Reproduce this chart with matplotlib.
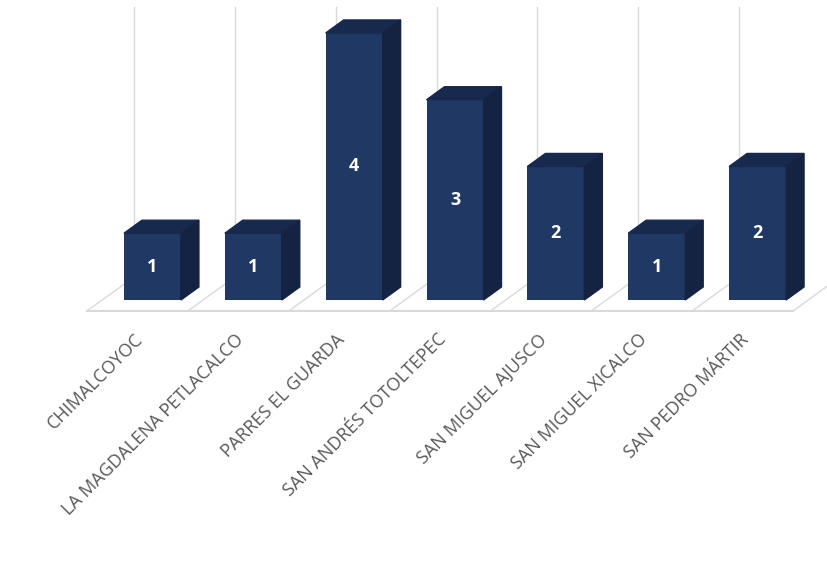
import matplotlib.pyplot as plt
import numpy as np
from matplotlib.patches import Polygon

categories = ['CHIMALCOYOC', 'LA MAGDALENA PETLACALCO', 'PARRES EL GUARDA',
              'SAN ANDRÉS TOTOLTEPEC', 'SAN MIGUEL AJUSCO', 'SAN MIGUEL XICALCO',
              'SAN PEDRO MÁRTIR']
values = [1, 1, 4, 3, 2, 1, 2]

front_col = '#203864'
top_col = '#172a4e'
side_col = '#142341'
grid_col = '#d9d9d9'

fig = plt.figure(figsize=(8.27, 5.67), dpi=100)
ax = fig.add_axes([0, 0, 1, 1])
ax.axis('off')
ax.set_xlim(-1.3626, 6.837)
ax.set_ylim(-4.0, 4.494)

n = len(categories)
x = np.arange(n)

# fake 3d: depth offsets in data units
floor_dx, floor_dy = 0.466, 0.51
floor_y = -0.165
bar_off = 0.149
bar_dx, bar_dy = 0.178, 0.195
width = 0.565

# floor
b = np.arange(n + 1) - 0.5
ax.plot([b[0], b[-1]], [floor_y, floor_y], color=grid_col, lw=1.5, zorder=1)
for bb in b:
    ax.plot([bb, bb + floor_dx], [floor_y, floor_y + floor_dy],
            color=grid_col, lw=1, zorder=1)
    # back wall gridline
    ax.plot([bb + floor_dx] * 2, [floor_y + floor_dy, 4.39],
            color=grid_col, lw=1, zorder=1)

# bars
xc = x + bar_off
ax.bar(xc, values, width=width, color=front_col, zorder=3)
for xi, v in zip(xc, values):
    l, r = xi - width / 2, xi + width / 2
    ax.add_patch(Polygon([(l, v), (r, v), (r + bar_dx, v + bar_dy), (l + bar_dx, v + bar_dy)],
                         closed=True, color=top_col, zorder=3))
    ax.add_patch(Polygon([(r, 0), (r, v), (r + bar_dx, v + bar_dy), (r + bar_dx, bar_dy)],
                         closed=True, color=side_col, zorder=3))
    ax.text(xi, v / 2, str(v), color='white', fontsize=13, fontweight='bold',
            family='Open Sans', ha='center', va='center', zorder=4)

# category labels
for xi, name in zip(x, categories):
    ax.text(xi + 0.03, -0.55, name, rotation=45, rotation_mode='anchor',
            ha='right', va='center', fontsize=13, color='#595959',
            family='Open Sans')

fig.savefig('out.png', dpi=100)
